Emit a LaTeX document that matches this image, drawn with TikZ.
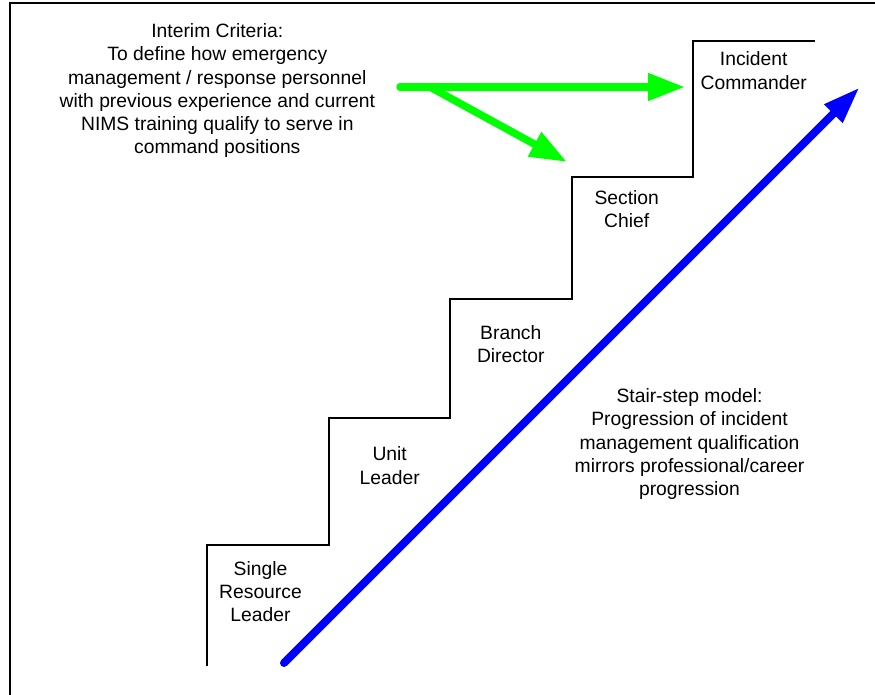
\documentclass[tikz,border=0pt]{standalone}
\usepackage{fontspec}
\setmainfont{Liberation Sans}
\usetikzlibrary{arrows.meta}
\definecolor{arrowgreen}{RGB}{0,255,0}
\definecolor{arrowblue}{RGB}{0,0,255}
\begin{document}
\begin{tikzpicture}[x=1pt,y=-1pt,
  lbl/.style={align=center,anchor=north,inner sep=0pt,font=\fontsize{19.3}{23.3}\selectfont},
  stair/.style={line width=2.5pt,line join=miter},
  frame/.style={line width=2pt},
  garrow/.style={draw=arrowgreen,line width=7.5pt,line cap=round,-{Triangle[length=37pt,width=26pt]}},
  barrow/.style={draw=arrowblue,line width=8pt,line cap=round,-{Triangle[length=37pt,width=24pt]}}]
\clip (0,0) rectangle (875,694);
\draw[frame] (10,3) rectangle (900,720);
% stairs
\draw[stair] (207,666) |- (329,545) |- (450,418) |- (572,299) |- (693,177) |- (815,41);
% labels
\node[lbl] (interim) at (217.3,23.3) {Interim Criteria:\\To define how emergency\\management / response personnel\\with previous experience and current\\NIMS training qualify to serve in\\command positions};
\node[lbl] (ic) at (753.7,51.7) {Incident\\Commander};
\node[lbl] (sc) at (626.7,190.3) {Section\\Chief};
\node[lbl] (bd) at (510.8,325.3) {Branch\\Director};
\node[lbl] (ul) at (389.7,446.7) {Unit\\Leader};
\node[lbl] (srl) at (260.5,561) {Single\\Resource\\Leader};
\node[lbl] (model) at (689.5,388.3) {Stair-step model:\\Progression of incident\\management qualification\\mirrors professional/career\\progression};
% arrows
\coordinate (gstart) at (400,87);
\coordinate (gsplit) at (430,87);
\coordinate (gtipic) at (685,87);
\coordinate (gtipsc) at (567,162);
\draw[garrow] (gstart) -- (gtipic);
\draw[garrow] (gsplit) -- (gtipsc);
\coordinate (bstart) at (284,663);
\coordinate (btip) at (859.5,87.5);
\draw[barrow] (bstart) -- (btip);
\end{tikzpicture}
\end{document}
